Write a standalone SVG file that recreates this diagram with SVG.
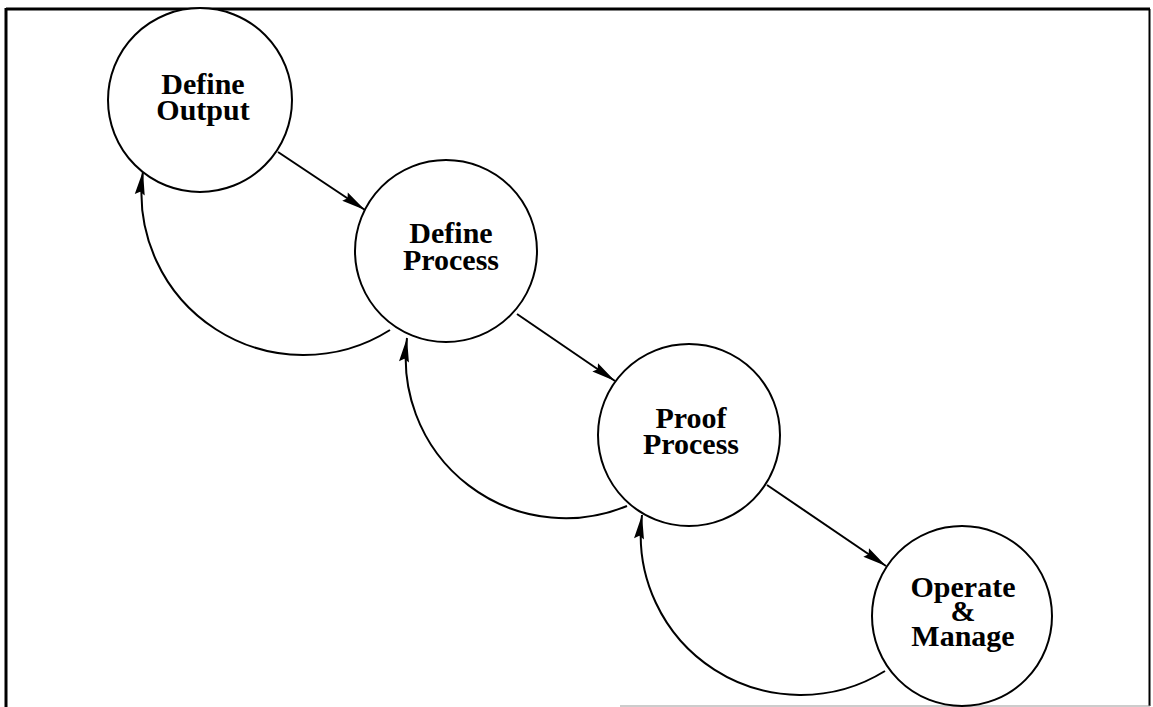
<svg xmlns="http://www.w3.org/2000/svg" width="1153" height="707" viewBox="0 0 1153 707">
  <style>
    .node circle { fill: #fff; stroke: #000; stroke-width: 2; }
    .node text { font-family: "Liberation Serif", "Times New Roman", serif; font-weight: bold; font-size: 30px; fill: #000; text-anchor: middle; }
    .edge { fill: none; stroke: #000; stroke-width: 2; marker-end: url(#head); }
  </style>
  <defs>
    <marker id="head" viewBox="-25 -6 26 12" markerWidth="26" markerHeight="12" refX="0" refY="0" orient="auto" markerUnits="userSpaceOnUse">
      <path d="M0,0 L-24,-5 L-21,0 L-24,5 Z" fill="#000"/>
    </marker>
  </defs>

  <rect width="1153" height="707" fill="#fff"/>

  <!-- frame -->
  <g id="frame">
    <line x1="6" y1="9" x2="1150" y2="9" stroke="#000" stroke-width="3"/>
    <line x1="6" y1="8" x2="6" y2="707" stroke="#000" stroke-width="3"/>
    <line x1="1149.5" y1="9" x2="1149.5" y2="706" stroke="#000" stroke-width="2"/>
    <line x1="620" y1="706" x2="1150" y2="706" stroke="#999" stroke-width="1"/>
  </g>

  <!-- connectors -->
  <g id="connectors">
    <path class="edge" d="M278,152 L365,210"/>
    <path class="edge" d="M517,314 L615,381"/>
    <path class="edge" d="M767,485 L886,566"/>
    <path class="edge" d="M390,330 A162,162 0 0 1 143,171"/>
    <path class="edge" d="M627,506 A160,160 0 0 1 407,338"/>
    <path class="edge" d="M885,671 A160,160 0 0 1 642,515"/>
  </g>

  <g id="define-output" class="node">
    <circle cx="200" cy="100" r="92"/>
    <text x="203" y="94">Define</text>
    <text x="203" y="120">Output</text>
  </g>

  <g id="define-process" class="node">
    <circle cx="446" cy="251" r="91"/>
    <text x="451" y="243">Define</text>
    <text x="451" y="270">Process</text>
  </g>

  <g id="proof-process" class="node">
    <circle cx="689" cy="435" r="91"/>
    <text x="691" y="428">Proof</text>
    <text x="691" y="454">Process</text>
  </g>

  <g id="operate-manage" class="node">
    <circle cx="962" cy="616" r="90"/>
    <text x="963" y="597">Operate</text>
    <text x="963" y="621">&amp;</text>
    <text x="963" y="646">Manage</text>
  </g>
</svg>
